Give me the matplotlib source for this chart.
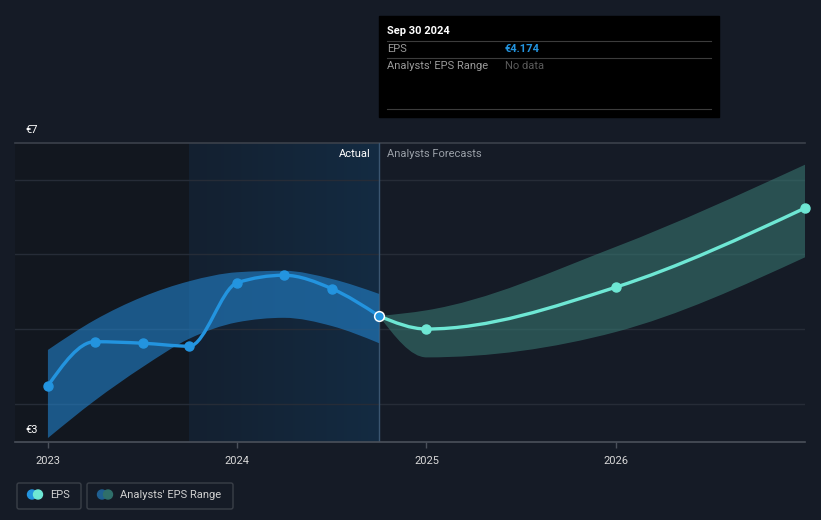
import numpy as np
import matplotlib
matplotlib.use("Agg")
import matplotlib.pyplot as plt
from matplotlib.path import Path
from matplotlib.patches import PathPatch, Rectangle, FancyBboxPatch, Circle
from matplotlib.colors import LinearSegmentedColormap

plt.rcParams["font.family"] = ["Roboto", "DejaVu Sans"]

# ---- data (decimal years, EUR) ----
actual_x = [2023.0, 2023.247, 2023.5, 2023.747, 2024.0, 2024.247, 2024.5, 2024.75]
actual_eps = [3.24, 3.83, 3.81, 3.77, 4.62, 4.72, 4.54, 4.174]
actual_hi = [3.72, 4.12, 4.43, 4.64, 4.76, 4.78, 4.67, 4.47]
actual_lo = [2.54, 3.04, 3.49, 3.87, 4.09, 4.15, 4.04, 3.81]

fc_x = [2024.75, 2025.0, 2026.0, 2027.0]
fc_eps = [4.174, 4.00, 4.56, 5.62]
fc_hi = [4.174, 4.25, 5.10, 6.20]
fc_lo = [4.174, 3.62, 3.96, 4.96]

year_ticks = [2023, 2024, 2025, 2026]

BG = "#151b26"
BLUE = "#2394df"
TEAL = "#6ee7d4"


def _sign(v):
    return -1.0 if v < 0 else 1.0


def smooth_segments(xs, ys):
    """Monotone-x cubic through the points (like d3.curveMonotoneX), as bezier vertices."""
    xs = np.asarray(xs, float)
    ys = np.asarray(ys, float)
    n = len(xs)
    h = np.diff(xs)
    s = np.diff(ys) / h
    m = np.zeros(n)
    for i in range(1, n - 1):
        p = (s[i - 1] * h[i] + s[i] * h[i - 1]) / (h[i - 1] + h[i])
        m[i] = (_sign(s[i - 1]) + _sign(s[i])) * min(abs(s[i - 1]), abs(s[i]), 0.5 * abs(p))
    m[0] = (3 * s[0] - m[1]) / 2 if n > 2 else s[0]
    m[-1] = (3 * s[-1] - m[-2]) / 2 if n > 2 else s[-1]
    verts = [(xs[0], ys[0])]
    for i in range(n - 1):
        d = h[i] / 3
        verts += [(xs[i] + d, ys[i] + m[i] * d),
                  (xs[i + 1] - d, ys[i + 1] - m[i + 1] * d),
                  (xs[i + 1], ys[i + 1])]
    return verts


def curve_path(xs, ys):
    v = smooth_segments(xs, ys)
    codes = [Path.MOVETO] + [Path.CURVE4] * (len(v) - 1)
    return Path(v, codes)


def band_path(xs, hi, lo):
    top = smooth_segments(xs, hi)
    bot = smooth_segments(xs, lo)[::-1]
    verts = top + bot + [top[0]]
    codes = ([Path.MOVETO] + [Path.CURVE4] * (len(top) - 1)
             + [Path.LINETO] + [Path.CURVE4] * (len(bot) - 1) + [Path.CLOSEPOLY])
    return Path(verts, codes)


fig = plt.figure(figsize=(8.21, 5.2), dpi=100, facecolor=BG)
W, H = 821, 520
ax = fig.add_axes([15 / W, 1 - 442 / H, (805 - 15) / W, (442 - 143) / H])
ax.set_facecolor(BG)

x0, x1 = 2022.826, 2027.0
y0, y1 = 2.487, 6.491

# shaded regions
ax.axvspan(x0, 2023.747, color="#12171f", zorder=0, lw=0)
cmap = LinearSegmentedColormap.from_list("hl", ["#142030", "#132b42"])
ax.imshow(np.linspace(0, 1, 256).reshape(1, -1), extent=[2023.747, 2024.75, y0, y1],
          aspect="auto", cmap=cmap, zorder=0.5)

for g in [3, 4, 5, 6]:
    ax.axhline(g, color="#262c37", lw=1, zorder=1)
ax.axhline(y1, color="#3b414b", lw=1.2, zorder=1, clip_on=False)
ax.axvline(2024.75, color="#3a5570", lw=1, zorder=2)

# bands
ax.add_patch(PathPatch(band_path(actual_x, actual_hi, actual_lo),
                       facecolor="#2280c8", alpha=0.62, lw=0, zorder=2))
ax.add_patch(PathPatch(band_path(fc_x, fc_hi, fc_lo),
                       facecolor="#3a7d76", alpha=0.55, lw=0, zorder=2))

# lines
ax.add_patch(PathPatch(curve_path(actual_x, actual_eps), facecolor="none",
                       edgecolor=BLUE, lw=2.4, zorder=3, capstyle="round"))
ax.add_patch(PathPatch(curve_path(fc_x, fc_eps), facecolor="none",
                       edgecolor=TEAL, lw=2.4, zorder=3, capstyle="round"))
ax.plot(actual_x[:-1], actual_eps[:-1], "o", color=BLUE, ms=6.5, zorder=4)
ax.plot(fc_x[1:], fc_eps[1:], "o", color=TEAL, ms=6.5, zorder=4, clip_on=False)
ax.plot(actual_x[-1:], actual_eps[-1:], "o", color=BLUE, ms=7, mec="white",
        mew=1.1, zorder=5)

ax.set_xlim(x0, x1)
ax.set_ylim(y0, y1)
ax.set_yticks([])
ax.set_xticks(year_ticks)
ax.set_xticklabels([str(y) for y in year_ticks])
ax.tick_params(axis="x", colors="#4a505a", labelcolor="#d8d8d8", labelsize=8,
               length=4, width=1, pad=6)
for s in ["top", "left", "right"]:
    ax.spines[s].set_visible(False)
ax.spines["bottom"].set_color("#4a505a")
ax.spines["bottom"].set_linewidth(1.2)

# overlay in pixel coords
ov = fig.add_axes([0, 0, 1, 1], zorder=10)
ov.set_xlim(0, W)
ov.set_ylim(H, 0)
ov.axis("off")

ov.text(25, 130, "€7", color="white", fontsize=8, va="center")
ov.text(25, 430, "€3", color="white", fontsize=8, va="center")
ov.text(371, 154, "Actual", color="white", fontsize=8, ha="right", va="center")
ov.text(387, 154, "Analysts Forecasts", color="#9aa0a8", fontsize=8, va="center")

# tooltip
ov.add_patch(Rectangle((379, 16), 340, 101, color="black", zorder=1))
ov.text(387, 31, "Sep 30 2024", color="white", fontsize=8, weight="bold", va="center", zorder=2)
for yy in [41, 58, 109]:
    ov.plot([387, 711], [yy, yy], color="#3c3c3c", lw=0.8, zorder=2)
ov.text(387, 49, "EPS", color="#9a9a9a", fontsize=8, va="center", zorder=2)
ov.text(505, 49, "€4.174", color=BLUE, fontsize=8, weight="bold", va="center", zorder=2)
ov.text(387, 66, "Analysts' EPS Range", color="#9a9a9a", fontsize=8, va="center", zorder=2)
ov.text(505, 66, "No data", color="#5a5a5a", fontsize=8, va="center", zorder=2)

# legend
for (lx, lw, c1, c2, label) in [(17, 64, BLUE, TEAL, "EPS"),
                                 (87, 146, "#1f5f91", "#2f6f6a", "Analysts' EPS Range")]:
    ov.add_patch(FancyBboxPatch((lx, 483), lw, 26, boxstyle="round,pad=0,rounding_size=2",
                                facecolor="none", edgecolor="#3a3f48", lw=1))
    ov.add_patch(Circle((lx + 15, 494.5), 4.5, color=c1))
    ov.add_patch(Circle((lx + 21, 494.5), 4.5, color=c2))
    ov.text(lx + 33, 495, label, color="#d0d0d0", fontsize=8, va="center")

fig.savefig("out.png", dpi=100, facecolor=BG)
